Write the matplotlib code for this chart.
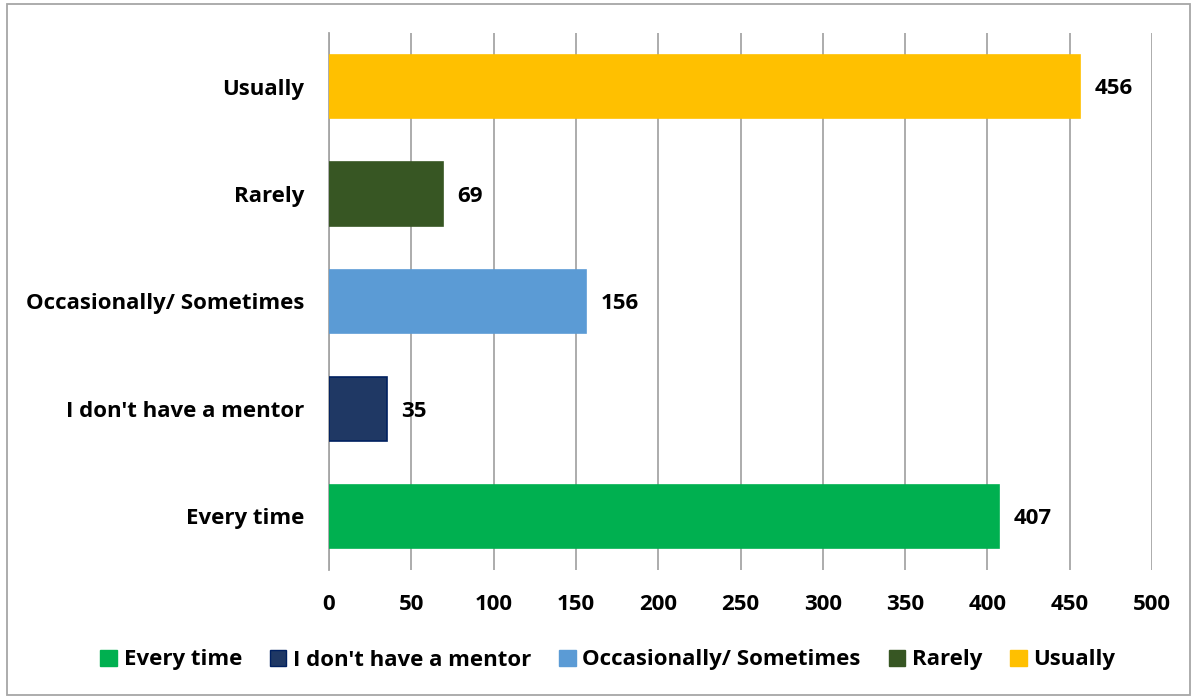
import matplotlib
matplotlib.use('Agg')
import matplotlib.pyplot as plt
from matplotlib.patches import Rectangle, Patch

categories = ['Every time', "I don't have a mentor", 'Occasionally/ Sometimes', 'Rarely', 'Usually']
values = [407, 35, 156, 69, 456]
colors = ['#00B050', '#1F3864', '#5B9BD5', '#375623', '#FFC000']
edges = ['#00B050', '#002060', '#5B9BD5', '#375623', '#FFC000']
xticks = [0, 50, 100, 150, 200, 250, 300, 350, 400, 450, 500]

plt.rcParams['font.family'] = ['Open Sans', 'DejaVu Sans']
plt.rcParams['font.weight'] = 'bold'
FS = 16

fig = plt.figure(figsize=(11.94, 6.98), dpi=100)
ax = fig.add_axes([329 / 1194, 1 - 570 / 698, (1152 - 329) / 1194, (570 - 33) / 698])

ypos = range(len(categories))
ax.barh(ypos, values, height=0.59, color=colors, edgecolor=edges, linewidth=1.2, zorder=3)
for y, v in zip(ypos, values):
    ax.text(v + 9, y - 0.02, str(v), va='center', ha='left', fontsize=FS, fontweight='bold')

ax.set_xlim(0, 500)
ax.set_ylim(-0.5, 4.5)
ax.set_xticks(xticks)
ax.set_yticks(list(ypos))
ax.set_yticklabels(categories)
ax.tick_params(length=0, labelsize=FS)
ax.tick_params(axis='y', pad=18)
ax.tick_params(axis='x', pad=17)
for lab in ax.get_xticklabels() + ax.get_yticklabels():
    lab.set_fontweight('bold')
ax.grid(axis='x', color='#A6A6A6', linewidth=1.3, zorder=0)
for s in ['top', 'right', 'bottom']:
    ax.spines[s].set_visible(False)
ax.spines['left'].set_color('#A6A6A6')
ax.spines['left'].set_linewidth(1.3)

handles = [Patch(facecolor=c, edgecolor=e, label=l) for c, e, l in zip(colors, edges, categories)]
fig.legend(handles=handles, loc='center', bbox_to_anchor=(0.509, 1 - 660 / 698), ncol=5,
           frameon=False, handlelength=0.75, handleheight=0.75,
           handletextpad=0.3, columnspacing=1.25, prop={'weight': 'bold', 'size': FS})

fig.patches.append(Rectangle((7 / 1194, 1 - 695 / 698), 1183 / 1194, 691 / 698,
                             transform=fig.transFigure, fill=False,
                             edgecolor='#A6A6A6', linewidth=1.3))

fig.savefig('out.png', dpi=100)
